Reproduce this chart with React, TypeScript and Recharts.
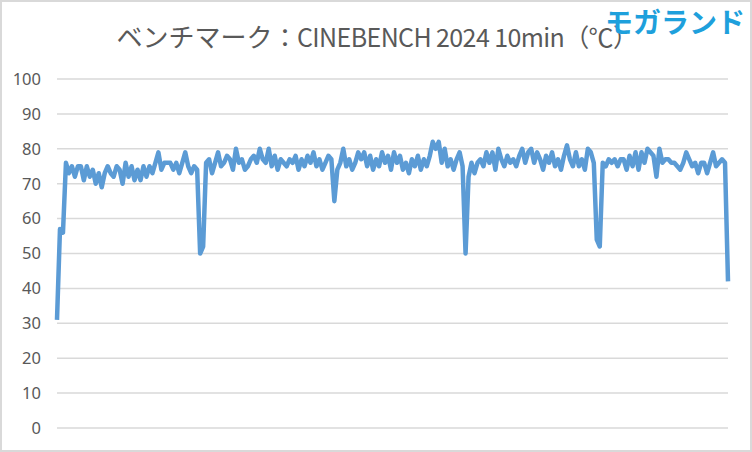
import React from 'react'
import { LineChart, Line, XAxis, YAxis, CartesianGrid } from 'recharts'

const temps = [
  31, 57, 56, 76, 73, 75, 72, 75, 75, 71, 75, 72, 74, 70, 73, 69, 73, 75, 73, 72, 75, 74, 70, 76, 72, 75, 71, 74, 71, 75, 72, 75, 73, 76, 79, 74, 76, 76,
  76, 74, 76, 73, 76, 79, 75, 73, 75, 74, 50, 52, 76, 77, 73, 76, 79, 75, 76, 78, 77, 74, 80, 76, 77, 74, 75, 77, 78, 76, 80, 77, 76, 80, 75, 78, 74, 77, 76,
  75, 77, 76, 78, 74, 77, 75, 78, 76, 79, 75, 77, 74, 76, 78, 77, 65, 74, 76, 80, 75, 77, 74, 76, 79, 77, 79, 75, 78, 74, 77, 75, 79, 76, 78, 74, 79, 76,
  78, 74, 76, 73, 77, 75, 78, 74, 77, 75, 78, 82, 80, 82, 76, 80, 75, 77, 74, 77, 79, 75, 50, 72, 76, 73, 76, 77, 75, 79, 76, 79, 74, 80, 77, 75, 78,
  76, 77, 75, 78, 80, 76, 79, 80, 76, 79, 77, 74, 78, 76, 79, 75, 77, 74, 78, 81, 77, 75, 79, 75, 77, 74, 80, 79, 76, 54, 52, 76, 75, 77, 76, 77, 75, 77,
  77, 74, 78, 75, 79, 74, 79, 76, 80, 79, 78, 72, 80, 76, 77, 77, 76, 76, 75, 74, 76, 79, 77, 75, 76, 73, 76, 76, 73, 76, 79, 75, 76, 77, 76, 42,
]

const yTicks = [0, 10, 20, 30, 40, 50, 60, 70, 80, 90, 100]

const titleJa = 'ベンチマーク'
const titleRest = '：CINEBENCH 2024 10min（℃）'
const watermark = 'モガランド'

const data = temps.map((t, i) => ({ sample: i, temp: t }))

export default function App() {
  return (
    <div
      style={{
        position: 'absolute',
        left: 0,
        top: 0,
        width: 752,
        height: 452,
        background: '#fff',
        boxSizing: 'border-box',
        border: '2px solid #d9d9d9',
      }}
    >
      <div
        style={{
          position: 'absolute',
          left: 0,
          top: 14,
          width: 750,
          textAlign: 'center',
          fontFamily: '"Noto Sans CJK JP", sans-serif',
          color: '#595959',
          lineHeight: '40px',
          whiteSpace: 'nowrap',
        }}
      >
        <span style={{ fontSize: 26 }}>{titleJa}</span>
        <span style={{ fontSize: 25, letterSpacing: -0.6 }}>{titleRest}</span>
      </div>
      <div
        style={{
          position: 'absolute',
          right: 5,
          top: 0,
          fontFamily: '"Noto Sans CJK JP", sans-serif',
          fontWeight: 700,
          fontSize: 28,
          color: '#1ea0dc',
          lineHeight: '38px',
        }}
      >
        {watermark}
      </div>
      <div style={{ position: 'absolute', left: -2, top: -2 }}>
        <LineChart
          width={752}
          height={452}
          data={data}
          margin={{ top: 79, right: 24, bottom: 24, left: 0 }}
        >
          <CartesianGrid vertical={false} stroke="#d9d9d9" strokeWidth={1.5} />
          <XAxis dataKey="sample" hide />
          <YAxis
            domain={[0, 100]}
            ticks={yTicks}
            width={57}
            axisLine={false}
            tickLine={false}
            tickMargin={10}
            tick={{ fill: '#595959', fontSize: 16.5, fontFamily: '"Noto Sans", sans-serif' }}
          />
          <Line
            dataKey="temp"
            type="linear"
            stroke="#5b9bd5"
            strokeWidth={4.5}
            strokeLinejoin="round"
            dot={false}
            isAnimationActive={false}
          />
        </LineChart>
      </div>
    </div>
  )
}
